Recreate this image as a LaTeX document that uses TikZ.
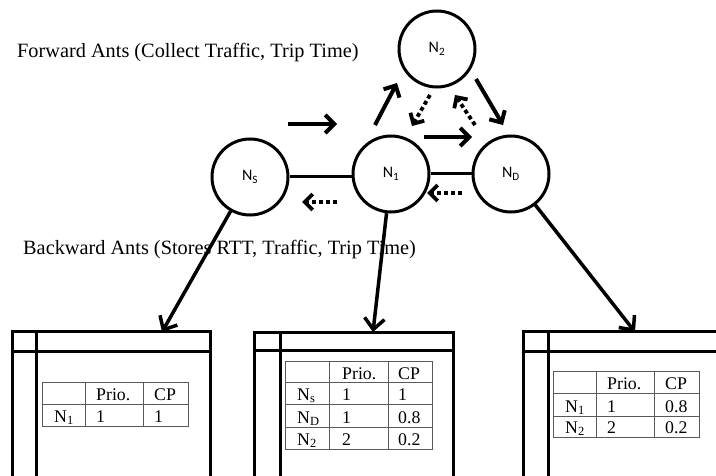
\documentclass[tikz,border=0pt]{standalone}
\usepackage{fontspec}
\setmainfont{Liberation Serif}
\newfontfamily\labelfont{Carlito}
\usetikzlibrary{arrows.meta}
\begin{document}
\begin{tikzpicture}[x=1pt,y=-1pt,
  antnode/.style={circle,draw,line width=3pt,minimum size=76pt,inner sep=0pt,
    font=\labelfont\fontsize{16}{16}\selectfont},
  fwd/.style={line width=4pt,-{Straight Barb[length=9pt,width=18pt]}},
  bwd/.style={line width=3.8pt,dash pattern=on 4pt off 3pt,
    -{Straight Barb[length=8pt,width=16pt]}},
  link/.style={line width=3pt},
  route/.style={line width=3.5pt,-{Straight Barb[length=11pt,width=20pt]}},
  frame/.style={line width=3pt},
  tgrid/.style={line width=0.8pt,draw=black!65},
  cell/.style={anchor=base west,inner sep=0pt,font=\fontsize{17.8}{18}\selectfont},
  caption/.style={anchor=base west,inner sep=0pt,font=\fontsize{20.3}{21}\selectfont}]
\useasboundingbox (0,0) rectangle (716,476);
\clip (0,0) rectangle (716,476);

% captions
\node[caption] (fwdtext) at (17,58) {Forward Ants (Collect Traffic, Trip Time)};
\node[caption] (bwdtext) at (23,255) {Backward Ants (Stores RTT, Traffic, Trip Time)};

% network nodes
\node[antnode] (N2) at (437,49) {\raisebox{3pt}{N\textsubscript{2}}};
\node[antnode] (N1) at (391,174) {\raisebox{3pt}{N\textsubscript{1}}};
\node[antnode] (NS) at (250,177) {N\textsubscript{S}};
\node[antnode] (ND) at (511,174) {\raisebox{3pt}{N\textsubscript{D}}};

% links
\draw[link] (NS.east) -- (NS.east -| N1.west);
\draw[link] (N1.east) -- (ND.west);

% forward ant movement
\coordinate (a1s) at (288,124); \coordinate (a1e) at (337,124);
\coordinate (a2s) at (375,125); \coordinate (a2e) at (397,83);
\coordinate (a3s) at (424,137); \coordinate (a3e) at (472,137);
\coordinate (a4s) at (476,79);  \coordinate (a4e) at (503,125);
\draw[fwd] (a1s) -- (a1e);
\draw[fwd] (a2s) -- (a2e);
\draw[fwd] (a3s) -- (a3e);
\draw[fwd] (a4s) -- (a4e);

% backward ant movement
\coordinate (d1s) at (430,95);  \coordinate (d1e) at (412,126);
\coordinate (d2s) at (475,125); \coordinate (d2e) at (455,95);
\coordinate (d3s) at (462,193); \coordinate (d3e) at (427,193);
\coordinate (d4s) at (337,202); \coordinate (d4e) at (302,202);
\draw[bwd] (d1s) -- (d1e);
\draw[bwd] (d2s) -- (d2e);
\draw[bwd] (d3s) -- (d3e);
\draw[bwd] (d4s) -- (d4e);

% routing table windows
\coordinate (tipL) at (162,332);
\coordinate (tipM) at (373,332);
\coordinate (tipR) at (635,332);

\draw[frame] (12,480) -- (12,332) -- (210,332) -- (210,480);
\draw[frame] (36,332) -- (36,480);
\draw[frame] (12,351) -- (210,351);

\draw[frame] (254,480) -- (254,333) -- (453,333) -- (453,480);
\draw[frame] (280,333) -- (280,480);
\draw[frame] (254,350) -- (453,350);

\draw[frame] (523,480) -- (523,332) -- (720,332);
\draw[frame] (548,332) -- (548,480);
\draw[frame] (523,351) -- (720,351);

\draw[route] (NS) -- (tipL);
\draw[route] (N1) -- (tipM);
\draw[route] (ND) -- (tipR);

% table at N_S
\draw[tgrid] (42,382) rectangle (188,426);
\draw[tgrid] (42,404) -- (188,404);
\draw[tgrid] (85,382) -- (85,426);
\draw[tgrid] (143,382) -- (143,426);
\node[cell] (sPrio) at (96,400) {Prio.};
\node[cell] (sCP)   at (154,400) {CP};
\node[cell] (sN1)   at (54,422) {N\textsubscript{1}};
\node[cell] (sN1p)  at (96,422) {1};
\node[cell] (sN1c)  at (154,422) {1};

% table at N_1
\draw[tgrid] (285,361) rectangle (432,449);
\draw[tgrid] (285,382) -- (432,382);
\draw[tgrid] (285,404) -- (432,404);
\draw[tgrid] (285,427) -- (432,427);
\draw[tgrid] (329,361) -- (329,449);
\draw[tgrid] (388,361) -- (388,449);
\node[cell] (mPrio) at (342,379) {Prio.};
\node[cell] (mCP)   at (398,379) {CP};
\node[cell] (mNs)   at (297,400) {N\textsubscript{s}};
\node[cell] (mNsp)  at (342,400) {1};
\node[cell] (mNsc)  at (398,400) {1};
\node[cell] (mND)   at (297,423) {N\textsubscript{D}};
\node[cell] (mNDp)  at (342,423) {1};
\node[cell] (mNDc)  at (398,423) {0.8};
\node[cell] (mN2)   at (297,445) {N\textsubscript{2}};
\node[cell] (mN2p)  at (342,445) {2};
\node[cell] (mN2c)  at (398,445) {0.2};

% table at N_D
\draw[tgrid] (553,371) rectangle (699,437);
\draw[tgrid] (553,393) -- (699,393);
\draw[tgrid] (553,416) -- (699,416);
\draw[tgrid] (596,371) -- (596,437);
\draw[tgrid] (654,371) -- (654,437);
\node[cell] (dPrio) at (607,389) {Prio.};
\node[cell] (dCP)   at (665,389) {CP};
\node[cell] (dN1)   at (565,412) {N\textsubscript{1}};
\node[cell] (dN1p)  at (607,412) {1};
\node[cell] (dN1c)  at (665,412) {0.8};
\node[cell] (dN2)   at (565,433) {N\textsubscript{2}};
\node[cell] (dN2p)  at (607,433) {2};
\node[cell] (dN2c)  at (665,433) {0.2};
\end{tikzpicture}
\end{document}
